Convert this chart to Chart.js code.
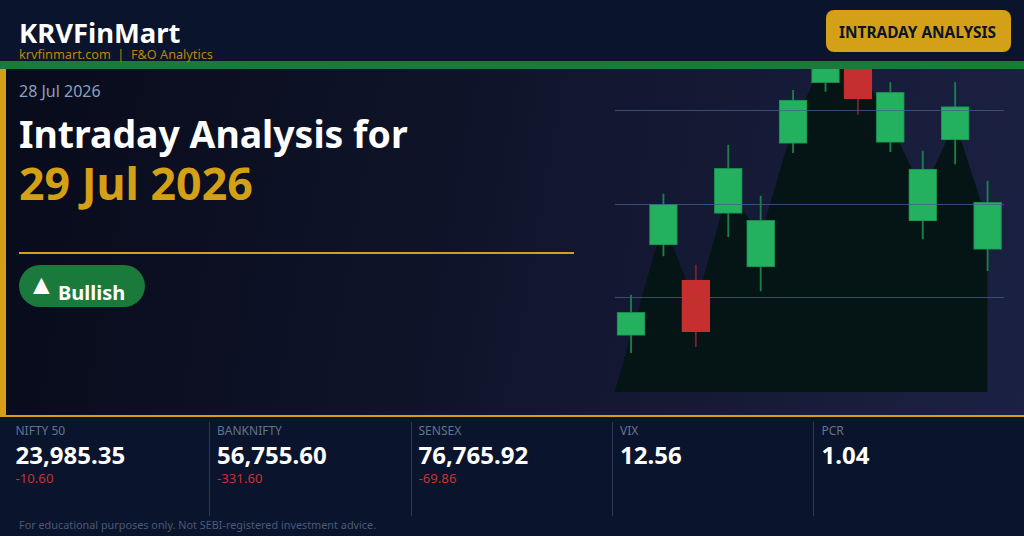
<!DOCTYPE html>
<html><head><meta charset="utf-8">
<script src="https://cdn.jsdelivr.net/npm/chart.js@4"></script>
<style>
*{margin:0;padding:0;box-sizing:border-box}
html,body{width:1024px;height:536px;overflow:hidden;font-family:"Noto Sans",sans-serif;background:#0a142c}
#bg{position:absolute;left:0;top:69px;width:1024px;height:346px;background:linear-gradient(100deg,#070b1a 0%,#0f1328 40%,#12162f 55%,#1b2142 100%)}
.t{position:absolute;white-space:nowrap;line-height:1}
#hdr{position:absolute;left:0;top:0;width:1024px;height:61px;background:#0a142c;z-index:2}
#grn{position:absolute;left:0;top:61px;width:1024px;height:8px;background:#1a7a3c;z-index:2}
#strip{position:absolute;left:0;top:69px;width:6px;height:346px;background:#d4a017;z-index:2}
#rule{position:absolute;left:19px;top:252px;width:555px;height:2px;background:#d4a017}
#pill{position:absolute;left:19px;top:265px;width:126px;height:42px;border-radius:21px;background:#1a7a3c}
#badge{position:absolute;left:826px;top:10px;width:185px;height:42px;border-radius:8px;background:#d4a017;z-index:3}
#bar{position:absolute;left:0;top:415px;width:1024px;height:121px;background:#0a142c;border-top:2px solid #d4a017;z-index:2}
.div{position:absolute;top:422px;width:1px;height:94px;background:#2a3a55;z-index:3}
#cv{position:absolute;left:614px;top:20px;width:390px;height:372px}
.z{z-index:4}
</style></head><body>
<div id="bg"></div>
<div id="cv"><canvas id="c" width="390" height="372"></canvas></div>
<div id="hdr"></div><div id="grn"></div><div id="strip"></div>
<div class="t z" style="left:19px;top:19px;font-size:27.4px;font-weight:700;color:#fff">KRVFinMart</div>
<div class="t z" style="left:19px;top:48px;font-size:12.7px;color:#b8860b;white-space:pre">krvfinmart.com  |  F&amp;O Analytics</div>
<div id="badge"></div>
<div class="t z" style="left:839px;top:25px;font-size:15.4px;font-weight:700;color:#0a142c">INTRADAY ANALYSIS</div>
<div class="t" style="left:19px;top:83px;font-size:16px;color:#8aa0c0">28 Jul 2026</div>
<div class="t" style="left:19px;top:115px;font-size:37.4px;font-weight:700;color:#fff">Intraday Analysis for</div>
<div class="t" style="left:19px;top:161px;font-size:44.7px;font-weight:700;color:#d4a017">29 Jul 2026</div>
<div id="rule"></div>
<div id="pill"></div>
<div class="t" style="left:27.5px;top:269px;font-size:28px;font-weight:700;color:#fff">▲</div>
<div class="t" style="left:58px;top:283px;font-size:20px;font-weight:700;color:#fff">Bullish</div>
<div id="bar"></div>
<div id="stats"></div>
<div class="t z" style="left:19px;top:520px;font-size:10.85px;color:#4a5a78">For educational purposes only. Not SEBI-registered investment advice.</div>
<script>
const candleIndex=[0,1,2,3,4,5,6,7,8,9,10,11];
const opens =[56.7,147,112,178.7,125,248.7,309.3,337,249.7,171,252,142.7];
const closes=[79.7,187.7,60.3,223.7,171.7,292,354,293,299.7,223,285.3,189.7];
const highs =[97,198,127,247,196,301.7,362,350,309.3,241,309.3,211];
const lows  =[39.3,136,45.3,155.3,101,239.3,300.7,277.7,240.3,153,228,121.3];
const areaLevels=[57,170,87,203,156,266,336,327,269,200,270,170];
const gridLevels=[95,188,282];
const statNames=["NIFTY 50","BANKNIFTY","SENSEX","VIX","PCR"];
const statValues=["23,985.35","56,755.60","76,765.92","12.56","1.04"];
const statChanges=["-10.60","-331.60","-69.86","",""];
const statX=[15.5,217,418.5,620,821.5];
const dividerX=[null,209,411,612,813];

const stats=document.getElementById('stats');
statNames.forEach((n,i)=>{
  let h=`<div class="t z" style="left:${statX[i]}px;top:425px;font-size:12px;color:#64748b">${n}</div>`+
  `<div class="t z" style="left:${statX[i]}px;top:443px;font-size:24px;font-weight:700;color:#fff">${statValues[i]}</div>`;
  if(statChanges[i])h+=`<div class="t z" style="left:${statX[i]}px;top:472px;font-size:13.2px;color:#c83232">${statChanges[i]}</div>`;
  if(i>0)h+=`<div class="div" style="left:${dividerX[i]}px"></div>`;
  stats.insertAdjacentHTML('beforeend',h);
});

const GREEN='#23b160',RED='#c62f2f';
const up=i=>closes[i]>=opens[i];
new Chart(document.getElementById('c'),{
  data:{datasets:[
    {type:'bar',order:1,grouped:false,barThickness:28,
     data:candleIndex.map(i=>({x:i,y:[opens[i],closes[i]]})),
     backgroundColor:candleIndex.map(i=>up(i)?GREEN:RED),
     borderColor:candleIndex.map(i=>up(i)?'#1c8a50':RED),borderWidth:1,borderSkipped:false},
    {type:'bar',order:2,grouped:false,barThickness:1.2,
     data:candleIndex.map(i=>({x:i,y:[lows[i],highs[i]]})),
     backgroundColor:candleIndex.map(i=>up(i)?'#1a7f4a':'#7a2030')},
    {type:'line',order:3,
     data:[{x:-0.5,y:0}].concat(candleIndex.map(i=>({x:i,y:areaLevels[i]})),[{x:11,y:0}]),
     borderWidth:0,pointRadius:0,tension:0,fill:'origin',backgroundColor:'#051414'}
  ]},
  options:{
    responsive:false,animation:false,
    layout:{padding:{left:0.8,right:0.2,top:0,bottom:0}},
    plugins:{legend:{display:false},tooltip:{enabled:false}},
    scales:{
      x:{type:'linear',min:-0.5,max:11.5,offset:false,display:false},
      y:{type:'linear',min:0,max:372,
         afterBuildTicks:s=>{s.ticks=gridLevels.map(v=>({value:v}))},
         border:{display:false},
         grid:{color:'rgba(70,95,140,0.75)',lineWidth:1,z:1,drawTicks:false},
         ticks:{display:false}}
    }
  }
});
</script>
</body></html>
